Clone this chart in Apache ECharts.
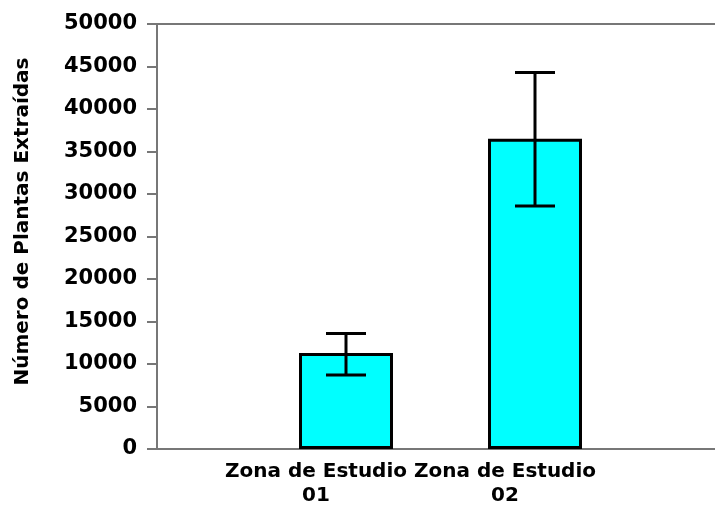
<!DOCTYPE html>
<html>
<head>
<meta charset="utf-8">
<script src="https://cdn.jsdelivr.net/npm/echarts@6/dist/echarts.min.js"></script>
<style>
  html, body { margin: 0; padding: 0; background: #fff; overflow: hidden; }
  #chart { width: 715px; height: 511px; }
</style>
</head>
<body>
<div id="chart"></div>
<script>
const categories = ["Zona de Estudio\n01", "Zona de Estudio\n02"];
const plantas = [11300, 36500];
const errLow = [8700, 28600];
const errHigh = [13600, 44300];
const yTicks = { min: 0, max: 50000, interval: 5000 };

// empty slots at both ends so the bars sit where the original put them
const axisData = [""].concat(categories, [""]);
const barData = [null].concat(plantas, [null]);
const errData = categories.map((c, i) => [i + 1, errLow[i], errHigh[i]]);

const font = "DejaVu Sans";

const chart = echarts.init(document.getElementById("chart"));
chart.setOption({
  animation: false,
  grid: {
    left: 157, width: 567, top: 24, bottom: 62,
    outerBoundsMode: "none",
    containLabel: false,
    show: true, borderColor: "#777", borderWidth: 2
  },
  xAxis: {
    type: "category",
    data: axisData,
    boundaryGap: false,
    axisLine: { lineStyle: { color: "#777", width: 2 } },
    axisTick: { show: false },
    axisLabel: {
      interval: 0,
      margin: 11,
      color: "#000",
      fontFamily: font,
      fontWeight: "bold",
      fontSize: 20,
      lineHeight: 24,
      padding: [0, 60, 0, 0]
    }
  },
  yAxis: {
    type: "value",
    min: yTicks.min,
    max: yTicks.max,
    interval: yTicks.interval,
    name: "Número de Plantas Extraídas",
    nameLocation: "middle",
    nameGap: 124,
    nameTextStyle: {
      color: "#000",
      fontFamily: font,
      fontWeight: "bold",
      fontSize: 20,
      padding: [0, 0, 0, 30]
    },
    axisLine: { show: true, lineStyle: { color: "#777", width: 2 } },
    axisTick: { show: true, length: 10, lineStyle: { color: "#777", width: 2 } },
    axisLabel: {
      margin: 20,
      color: "#000",
      fontFamily: font,
      fontWeight: "bold",
      fontSize: 21,
      formatter: v => String(v)
    },
    splitLine: { show: false }
  },
  series: [
    {
      type: "bar",
      data: barData,
      barWidth: 94,
      itemStyle: { color: "#00FFFF", borderColor: "#000", borderWidth: 3 }
    },
    {
      type: "custom",
      data: errData,
      z: 10,
      renderItem: function (params, api) {
        const x = api.value(0);
        const lo = api.coord([x, api.value(1)]);
        const hi = api.coord([x, api.value(2)]);
        const half = 20;
        const style = { stroke: "#000", lineWidth: 3 };
        return {
          type: "group",
          children: [
            { type: "line", shape: { x1: hi[0], y1: hi[1], x2: lo[0], y2: lo[1] }, style: style },
            { type: "line", shape: { x1: hi[0] - half, y1: hi[1], x2: hi[0] + half, y2: hi[1] }, style: style },
            { type: "line", shape: { x1: lo[0] - half, y1: lo[1], x2: lo[0] + half, y2: lo[1] }, style: style }
          ]
        };
      }
    }
  ]
});
</script>
</body>
</html>
